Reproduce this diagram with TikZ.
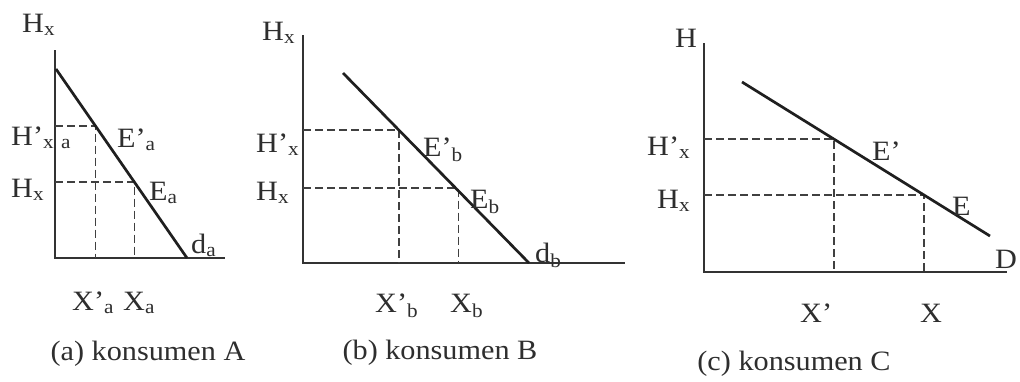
\documentclass[tikz,border=0pt]{standalone}
\usepackage{fontspec}
\setmainfont[FakeStretch=1.08]{Liberation Serif}
\usetikzlibrary{calc}
\begin{document}
\begin{tikzpicture}[x=1pt,y=-1pt,
  axis/.style={draw=black!80, line width=1.4pt},
  dem/.style={draw=black!88, line width=2.7pt},
  guide/.style={draw=black!75, line width=1.4pt, dash pattern=on 8pt off 4pt},
  lbl/.style={inner sep=0pt, anchor=base west, text=black!82, font=\fontsize{28}{28}\selectfont},
  captxt/.style={inner sep=0pt, anchor=base, text=black!82, font=\fontsize{28}{28}\selectfont}]
\useasboundingbox (0,0) rectangle (1020,381);
\fill[white] (0,0) rectangle (1020,381);

% ---------------- panel A ----------------
\coordinate (aT) at (55,50);
\coordinate (aO) at (55,258);
\coordinate (aR) at (225,258);
\coordinate (aD1) at (56,69);
\coordinate (aD2) at (187,258);
\coordinate (aEp) at (95.5,126);
\coordinate (aE) at (134.3,182);
\coordinate (aHp) at (55,126);
\coordinate (aH) at (55,182);
\coordinate (aXp) at (95.5,258);
\coordinate (aX) at (134.3,258);
\draw[axis] (aT) -- (aO) -- (aR);
\draw[guide] (aHp) -- (aEp) -- (aXp);
\draw[guide] (aH) -- (aE) -- (aX);
\draw[dem] (aD1) -- (aD2);
\node[lbl] (aLHt) at (22,32) {H\textsubscript{x}};
\node[lbl] (aLHp) at (11,145) {H’\textsubscript{x}};
\node[lbl] (aLa) at (61,145) {\textsubscript{a}};
\node[lbl] (aLH) at (11,197) {H\textsubscript{x}};
\node[lbl] (aLEp) at (117,147) {E’\textsubscript{a}};
\node[lbl] (aLE) at (149,200) {E\textsubscript{a}};
\node[lbl] (aLd) at (191,253) {d\textsubscript{a}};
\node[lbl] (aLXp) at (72,310) {X’\textsubscript{a}};
\node[lbl] (aLX) at (123,310) {X\textsubscript{a}};
\node[captxt] (aCap) at (148,360) {(a) konsumen A};

% ---------------- panel B ----------------
\coordinate (bT) at (303,35);
\coordinate (bO) at (303,263);
\coordinate (bR) at (625,263);
\coordinate (bD1) at (343,73);
\coordinate (bD2) at (529,263);
\coordinate (bEp) at (398.8,130);
\coordinate (bE) at (458.5,188);
\coordinate (bHp) at (303,130);
\coordinate (bH) at (303,188);
\coordinate (bXp) at (398.8,263);
\coordinate (bX) at (458.5,263);
\draw[axis] (bT) -- (bO) -- (bR);
\draw[guide] (bHp) -- (bEp) -- (bXp);
\draw[guide] (bH) -- (bE) -- (bX);
\draw[dem] (bD1) -- (bD2);
\node[lbl] (bLHt) at (262,40) {H\textsubscript{x}};
\node[lbl] (bLHp) at (256,152) {H’\textsubscript{x}};
\node[lbl] (bLH) at (256,200) {H\textsubscript{x}};
\node[lbl] (bLEp) at (423,156) {E’\textsubscript{b}};
\node[lbl] (bLE) at (470,208) {E\textsubscript{b}};
\node[lbl] (bLd) at (535,262) {d\textsubscript{b}};
\node[lbl] (bLXp) at (375,312) {X’\textsubscript{b}};
\node[lbl] (bLX) at (450,312) {X\textsubscript{b}};
\node[captxt] (bCap) at (440,359) {(b) konsumen B};

% ---------------- panel C ----------------
\coordinate (cT) at (704,43);
\coordinate (cO) at (704,272);
\coordinate (cR) at (1007,272);
\coordinate (cD1) at (742,82);
\coordinate (cD2) at (990,236);
\coordinate (cEp) at (834,139);
\coordinate (cE) at (924,195);
\coordinate (cHp) at (704,139);
\coordinate (cH) at (704,195);
\coordinate (cXp) at (834,272);
\coordinate (cX) at (924,272);
\draw[axis] (cT) -- (cO) -- (cR);
\draw[guide] (cHp) -- (cEp) -- (cXp);
\draw[guide] (cH) -- (cE) -- (cX);
\draw[dem] (cD1) -- (cD2);
\node[lbl] (cLHt) at (675,47) {H};
\node[lbl] (cLHp) at (647,155) {H’\textsubscript{x}};
\node[lbl] (cLH) at (657,208) {H\textsubscript{x}};
\node[lbl] (cLEp) at (872,160) {E’};
\node[lbl] (cLE) at (952,215) {E};
\node[lbl] (cLD) at (995,268) {D};
\node[lbl] (cLXp) at (800,322) {X’};
\node[lbl] (cLX) at (920,322) {X};
\node[captxt] (cCap) at (794,370) {(c) konsumen C};
\end{tikzpicture}
\end{document}
